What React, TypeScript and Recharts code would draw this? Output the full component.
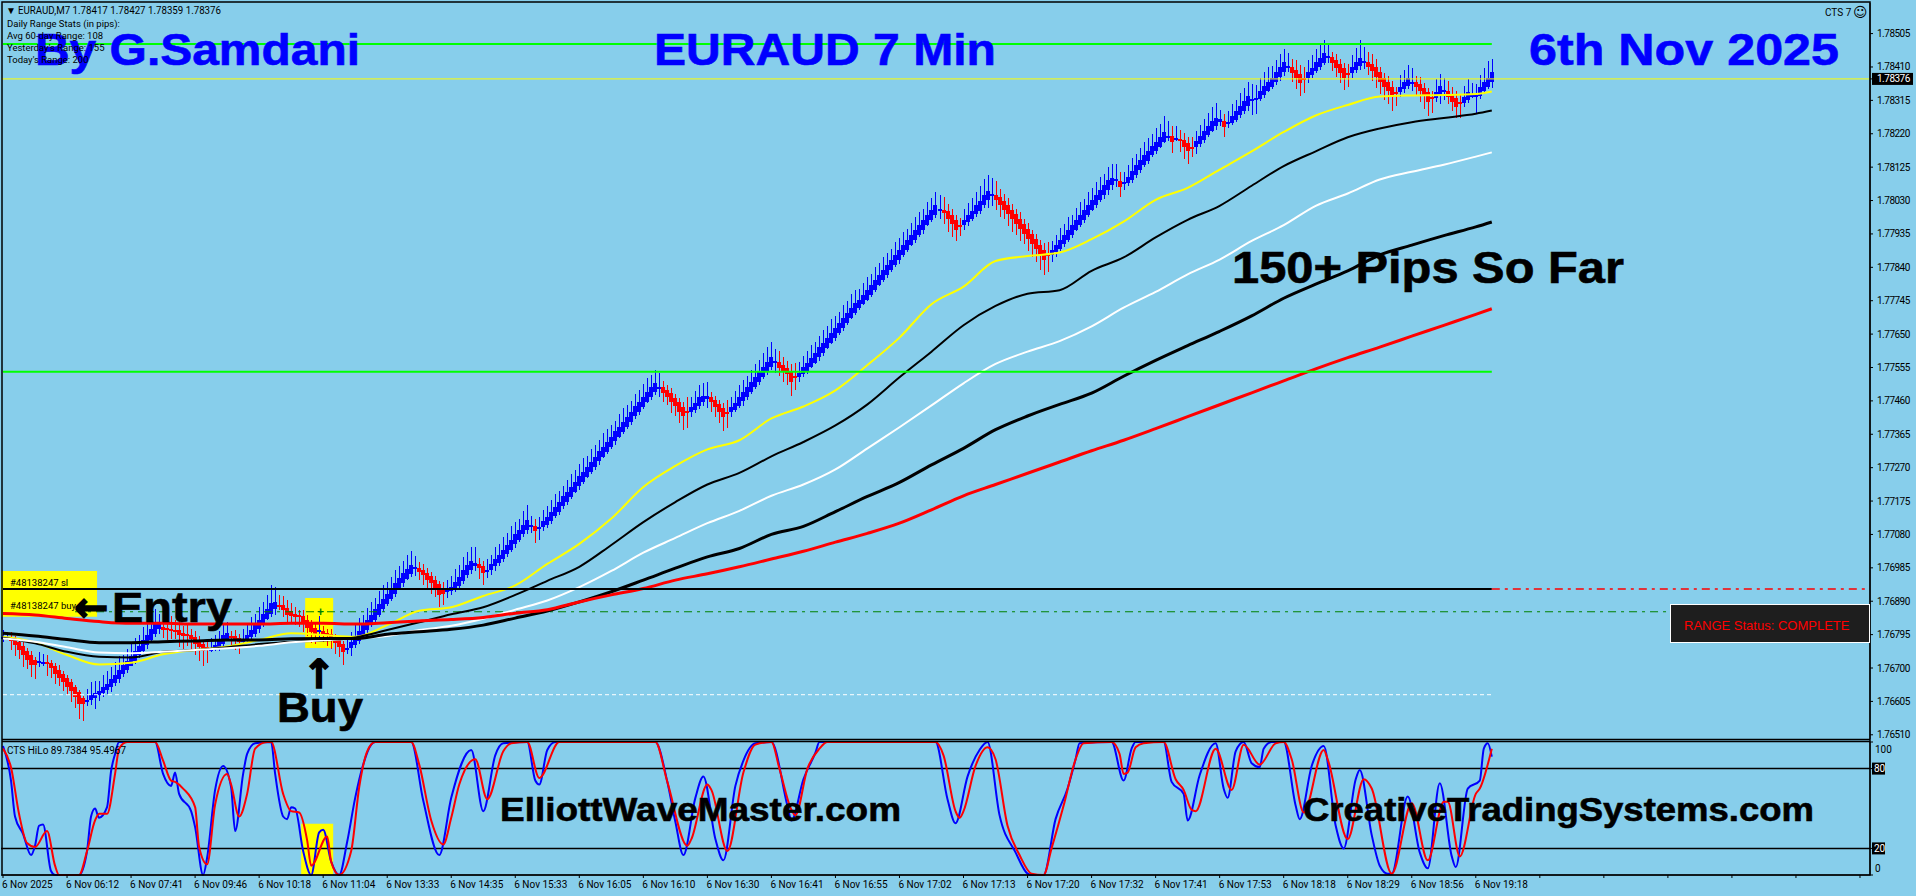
import { Bar, ComposedChart, Line, ReferenceArea, ReferenceLine, XAxis, YAxis } from 'recharts'

// prices are kept as points above 1.76000 (1.78376 -> 2376)
const closes = [
  789,786,775,765,751,737,725,708,708,721,715,711,699,685,673,661,647,633,618,599,
  599,609,623,630,635,647,654,668,680,694,708,721,735,749,762,780,794,810,827,825,
  810,808,808,806,794,793,791,784,770,759,749,751,753,765,780,794,800,789,780,775,
  781,794,808,822,836,854,867,884,887,879,865,851,848,846,844,827,813,803,794,808,
  794,791,780,770,759,746,756,775,789,806,822,836,851,867,882,895,910,924,941,955,
  969,983,993,988,974,964,952,941,927,908,908,922,931,945,960,979,993,1005,1000,985,
  970,979,996,1009,1022,1036,1050,1065,1080,1093,1106,1121,1104,1090,1102,1117,1131,1145,1159,1173,
  1188,1202,1216,1230,1245,1259,1273,1287,1301,1316,1330,1344,1358,1373,1387,1401,1415,1429,1444,1458,
  1472,1486,1499,1512,1500,1483,1472,1456,1446,1429,1417,1427,1442,1455,1470,1474,1474,1455,1442,1429,
  1415,1427,1442,1455,1470,1484,1499,1513,1527,1541,1556,1570,1584,1573,1553,1546,1538,1515,1526,1540,
  1555,1569,1583,1597,1612,1626,1640,1654,1668,1682,1697,1711,1725,1739,1747,1761,1776,1790,1804,1818,
  1833,1847,1861,1875,1890,1904,1918,1932,1946,1961,1975,1989,2003,2016,2006,1996,1977,1962,1948,1961,
  1975,1989,2001,2016,2030,2046,2058,2049,2032,2017,2004,1991,1977,1963,1949,1935,1920,1905,1890,1876,
  1863,1872,1889,1903,1917,1931,1946,1960,1974,1988,2002,2017,2031,2045,2060,2074,2088,2094,2090,2071,
  2082,2097,2115,2131,2145,2159,2172,2185,2197,2212,2226,2214,2197,2207,2200,2183,2169,2183,2199,2214,
  2228,2242,2256,2264,2261,2240,2254,2270,2285,2299,2313,2327,2318,2321,2342,2356,2368,2380,2395,2409,
  2423,2413,2394,2379,2365,2379,2395,2408,2423,2436,2451,2441,2422,2408,2394,2379,2392,2409,2423,2436,
  2427,2411,2399,2380,2365,2354,2340,2325,2338,2354,2366,2379,2368,2354,2340,2327,2311,2321,2340,2356,
  2342,2325,2311,2297,2306,2325,2340,2330,2330,2354,2368,2380,2395,
]

const upperWicks = [
  20,14,14,10,8,12,6,10,8,24,22,20,10,8,12,6,8,10,6,4,
  6,30,36,34,28,32,38,34,36,40,30,34,38,36,32,36,34,38,40,30,
  36,30,36,28,26,20,24,18,16,12,10,14,30,28,26,32,30,14,18,12,
  30,34,36,32,38,34,40,52,44,30,26,22,24,20,16,18,14,12,10,40,
  14,12,16,10,12,8,24,28,32,36,30,34,38,32,36,40,34,36,38,34,
  36,38,40,30,18,16,14,12,10,8,20,28,32,36,34,38,36,40,44,18,
  14,30,26,34,30,36,34,38,36,32,40,44,26,18,28,32,30,34,36,32,
  30,34,36,32,34,38,30,36,34,32,38,36,34,30,36,38,34,32,36,34,
  36,38,34,36,38,18,14,16,12,10,14,40,30,34,36,38,40,14,12,10,
  12,36,30,32,34,36,32,34,38,36,40,42,44,34,30,24,18,20,38,30,
  32,34,36,30,34,36,32,38,34,30,36,34,38,36,32,34,36,30,38,34,
  36,34,32,38,34,36,30,34,38,36,32,36,34,38,40,36,20,16,14,20,
  30,34,36,38,42,44,46,44,38,24,20,22,18,16,20,14,18,12,16,14,
  20,34,26,30,34,32,36,30,34,38,32,36,34,38,36,32,38,40,44,24,
  30,34,36,32,34,38,36,34,40,36,44,42,30,34,26,20,18,28,30,32,
  34,36,40,44,26,18,30,34,32,36,38,40,44,38,36,40,42,34,36,38,
  38,36,22,28,24,30,34,36,38,42,36,34,14,16,12,14,26,34,40,50,
  40,28,30,24,16,14,18,16,14,34,36,38,40,16,20,14,12,18,36,34,
  34,26,18,20,24,30,36,34,32,34,40,46,38,
]

const lowerWicks = [
  14,6,24,30,26,34,28,36,40,14,10,34,26,30,24,28,22,30,32,44,
  48,18,14,32,18,12,10,14,8,10,6,8,4,10,6,8,10,6,8,14,
  24,30,26,22,34,38,30,36,32,40,44,38,8,6,10,8,6,26,30,34,
  10,8,6,8,10,6,4,8,18,12,20,24,18,22,26,24,22,30,28,22,
  20,26,24,30,28,38,18,22,10,8,6,8,4,6,8,10,6,4,8,6,
  8,6,10,20,24,28,22,30,26,34,30,18,10,8,10,6,8,10,16,30,
  34,24,14,12,8,10,6,8,10,6,8,10,20,36,32,12,10,8,6,8,
  6,10,8,6,10,8,4,6,8,10,6,8,6,10,4,8,6,8,6,10,
  8,6,10,8,30,26,24,30,28,34,40,46,14,8,6,10,26,28,26,32,
  42,44,12,8,6,10,8,6,4,8,6,8,6,30,24,30,34,40,34,14,
  8,6,4,6,8,10,6,4,8,6,10,6,4,8,6,4,6,8,6,4,
  6,8,4,6,10,8,6,4,8,6,10,4,6,8,24,32,36,38,34,30,
  16,10,8,6,10,8,20,30,30,34,28,32,36,30,34,28,32,36,34,42,
  44,46,18,10,6,8,6,8,4,6,8,6,4,8,6,10,12,14,16,32,
  18,8,10,6,8,6,10,4,8,6,6,14,32,8,30,34,36,28,18,8,
  8,6,4,10,12,30,14,8,6,10,8,14,40,38,6,8,4,6,8,10,
  10,14,26,30,38,42,14,8,6,10,8,16,24,26,32,34,40,16,8,12,
  20,22,28,30,32,36,34,42,40,14,10,8,24,26,30,36,40,40,12,26,
  28,22,26,30,40,12,10,8,52,10,8,8,16,
]

// first and last bar of each falling (red) run
const redRuns = [
  [2, 8], [11, 20], [40, 51], [57, 59], [69, 78], [80, 85], [104, 110], [119, 120], [133, 133],
  [165, 171], [177, 181], [194, 198], [235, 239], [248, 261], [279, 279], [292, 292], [294, 297],
  [305, 305], [322, 325], [332, 336], [341, 348], [353, 357], [361, 364],
]

const maBars = [
  0, 8, 16, 24, 32, 40, 48, 56, 64, 72, 80, 88, 96, 104, 112, 120, 128, 136, 144, 152, 160, 168, 176, 184,
  192, 200, 208, 216, 224, 232, 240, 248, 256, 264, 272, 280, 288, 296, 304, 312, 320, 328, 336, 344, 352, 360, 368, 372,
]
const maYellow = [
  789, 773, 737, 710, 715, 739, 751, 761, 780, 799, 794, 789, 822, 863, 873, 905, 935, 996, 1053, 1125, 1215, 1275, 1322, 1348,
  1410, 1444, 1490, 1562, 1640, 1735, 1785, 1858, 1872, 1882, 1920, 1970, 2032, 2066, 2118, 2170, 2225, 2272, 2302, 2326, 2329, 2330, 2333, 2340,
]
const maBlackThin = [
  786, 770, 746, 732, 730, 746, 751, 759, 768, 775, 778, 787, 808, 830, 853, 873, 908, 948, 988, 1050, 1115, 1172, 1222, 1255,
  1302, 1343, 1390, 1450, 1527, 1600, 1675, 1730, 1765, 1775, 1830, 1868, 1925, 1975, 2015, 2072, 2128, 2170, 2210, 2235, 2253, 2265, 2277, 2286,
]
const maWhite = [
  784, 775, 759, 744, 742, 746, 751, 756, 763, 773, 779, 784, 791, 808, 820, 840, 866, 892, 930, 976, 1028, 1070, 1112, 1147,
  1190, 1222, 1265, 1325, 1385, 1447, 1510, 1565, 1600, 1630, 1672, 1725, 1770, 1820, 1862, 1915, 1960, 2015, 2050, 2090, 2112, 2132, 2155, 2167,
]
const maBlackThick = [
  799, 791, 781, 772, 772, 775, 777, 780, 780, 783, 784, 784, 796, 803, 810, 822, 842, 862, 888, 917, 950, 984, 1016, 1040,
  1080, 1103, 1145, 1188, 1228, 1278, 1325, 1378, 1417, 1450, 1482, 1530, 1575, 1617, 1658, 1702, 1752, 1792, 1830, 1875, 1903, 1930, 1955, 1969,
]
const maRed = [
  855, 851, 841, 832, 827, 827, 825, 825, 825, 827, 827, 825, 829, 834, 838, 844, 856, 866, 888, 908, 926, 950, 968, 988,
  1010, 1032, 1058, 1083, 1112, 1150, 1190, 1222, 1254, 1286, 1318, 1348, 1381, 1415, 1449, 1483, 1517, 1551, 1583, 1613, 1644, 1675, 1706, 1722,
]

// [bar, value]
const hiloBlue = [
  [0,97],[2,71],[3,44],[5,31],[7,15],[8,22],[9,37],[10,38],[12,3],[13,0],[19,0],[21,18],[22,44],[23,50],[24,43],[26,51],[27,78],[28,91],[29,100],
  [38,100],[40,76],[42,67],[43,77],[44,61],[47,48],[48,36],[50,0],[51,13],[53,64],[55,82],[57,66],[58,33],[60,76],[61,91],[63,99],[67,100],[68,76],
  [70,44],[71,42],[72,51],[73,50],[75,18],[77,0],[79,32],[80,34],[82,10],[84,0],[86,25],[88,58],[90,83],[92,98],[93,100],[102,100],[105,56],[109,15],
  [112,58],[117,94],[120,48],[123,90],[125,99],[131,100],[133,71],[134,68],[136,94],[138,100],[163,100],[166,70],[168,40],[170,15],[173,58],[175,74],
  [178,27],[180,11],[183,67],[185,86],[188,99],[192,100],[196,52],[197,41],[200,72],[203,92],[204,100],[233,100],[236,57],[238,39],[241,74],[244,94],
  [246,100],[249,45],[253,17],[256,1],[257,0],[260,0],[263,42],[266,65],[268,87],[269,99],[277,100],[280,71],[282,95],[283,100],[290,100],[292,70],
  [295,61],[296,41],[299,75],[303,99],[305,65],[306,58],[308,93],[310,100],[312,84],[314,81],[315,95],[317,100],[320,100],[323,52],[324,42],[327,82],
  [330,97],[333,37],[335,20],[338,72],[339,79],[342,30],[344,7],[346,1],[347,1],[351,59],[354,17],[356,5],[359,69],[362,14],[363,6],[366,65],[369,71],
  [370,95],[371,99],[372,89],
]
const hiloRed = [
  [0,95],[2,81],[4,46],[6,24],[8,21],[11,33],[13,7],[14,0],[19,0],[21,18],[23,41],[24,46],[26,46],[28,76],[29,95],[31,100],[38,100],[40,86],[42,71],
  [43,70],[45,65],[48,51],[49,21],[51,8],[53,53],[56,76],[57,68],[59,44],[61,61],[63,95],[66,100],[67,100],[70,61],[72,48],[74,47],[76,26],[77,7],
  [81,29],[82,10],[84,0],[87,18],[89,66],[91,93],[93,100],[102,100],[104,83],[107,41],[110,23],[112,43],[114,68],[118,87],[121,57],[125,93],[127,99],
  [131,100],[134,73],[139,100],[163,100],[166,70],[171,22],[172,27],[176,68],[177,64],[181,18],[185,77],[188,98],[192,100],[194,80],[197,49],[198,45],
  [201,80],[204,95],[206,100],[233,100],[235,90],[238,48],[239,43],[240,48],[243,82],[246,96],[248,87],[251,37],[254,15],[257,1],[260,0],[262,20],
  [265,52],[268,87],[270,99],[277,100],[279,91],[280,76],[281,77],[283,96],[285,99],[290,100],[293,72],[295,64],[297,49],[298,48],[303,95],[307,64],
  [310,98],[314,83],[318,99],[320,100],[322,87],[325,47],[330,94],[331,87],[336,27],[340,72],[342,65],[347,1],[352,54],[356,11],[360,55],[361,55],
  [364,14],[368,61],[369,65],[372,95],
]

const priceTicks = [2505, 2410, 2315, 2220, 2125, 2030, 1935, 1840, 1745, 1650, 1555, 1460, 1365, 1270, 1175, 1080, 985, 890, 795, 700, 605, 510]
const lastPrice = 2376
const hiloTicks = [0, 20, 80, 100]
const timeLabels = [
  '6 Nov 2025', '6 Nov 06:12', '6 Nov 07:41', '6 Nov 09:46', '6 Nov 10:18', '6 Nov 11:04', '6 Nov 13:33', '6 Nov 14:35',
  '6 Nov 15:33', '6 Nov 16:05', '6 Nov 16:10', '6 Nov 16:30', '6 Nov 16:41', '6 Nov 16:55', '6 Nov 17:02', '6 Nov 17:13',
  '6 Nov 17:20', '6 Nov 17:32', '6 Nov 17:41', '6 Nov 17:53', '6 Nov 18:18', '6 Nov 18:29', '6 Nov 18:56', '6 Nov 19:18',
]
const infoLines = ['Daily Range Stats (in pips):', 'Avg 60-day Range: 108', "Yesterday's Range: 155", "Today's Range: 200"]

const SLOTS = 467
const BLUE = '#0000ff'
const RED = '#ff0000'
const SKY = '#87ceeb'
const SMALL = 'Roboto, sans-serif'
const HEAVY = '"Liberation Sans", Arial, sans-serif'

function isRed(i: number) {
  return redRuns.some(([a, b]) => i >= a && i <= b)
}

// Heiken Ashi candles: the open sits halfway up the previous body
let haOpen = closes[0]
const rows = Array.from({ length: SLOTS }, (_, i) => {
  const row: any = { i }
  if (i < closes.length) {
    const close = closes[i]
    if (i > 0) haOpen = (haOpen + closes[i - 1]) / 2
    row.body = [haOpen, close]
    row.wick = [Math.min(haOpen, close) - lowerWicks[i], Math.max(haOpen, close) + upperWicks[i]]
  }
  const k = maBars.indexOf(i)
  if (k >= 0) {
    row.maYellow = maYellow[k]
    row.maBlackThin = maBlackThin[k]
    row.maWhite = maWhite[k]
    row.maBlackThick = maBlackThick[k]
    row.maRed = maRed[k]
  }
  return row
})

const hiloRows = Array.from({ length: SLOTS }, (_, i) => {
  const row: any = { i }
  const b = hiloBlue.find((p) => p[0] === i)
  const r = hiloRed.find((p) => p[0] === i)
  if (b) row.blue = b[1]
  if (r) row.red = r[1]
  return row
})

// pixel-snapped so the 4px candle grid stays crisp, thin bodies stay 2px tall
function CandlePart({ x, y, width, height, payload, minHeight = 1 }: any) {
  if (payload?.body == null || height == null) return null
  const top = Math.round(Math.min(y, y + height))
  const h = Math.max(Math.round(Math.abs(height)), minHeight)
  return <rect x={Math.round(x)} y={top} width={Math.round(width)} height={h} fill={isRed(payload.i) ? RED : BLUE} />
}

function PriceTick({ x, y, payload }: any) {
  const v = payload.value
  const label = (1.76 + v / 100000).toFixed(5)
  if (v === lastPrice) {
    return (
      <g>
        <rect x={x - 3} y={y - 6} width={41} height={12} fill="#000" />
        <text x={x + 2} y={y + 3.5} fontFamily={SMALL} fontSize={10} letterSpacing={-0.5} fill="#fff">{label}</text>
      </g>
    )
  }
  return <text x={x + 2} y={y + 3.5} fontFamily={SMALL} fontSize={10} letterSpacing={-0.5} fill="#000">{label}</text>
}

function HiloTick({ x, y, payload }: any) {
  const v = payload.value
  if (v === 20 || v === 80) {
    return (
      <g>
        <rect x={x - 3} y={y - 6} width={13} height={12} fill="#000" />
        <text x={x - 1} y={y + 3.5} fontFamily={SMALL} fontSize={10} fill="#fff">{v}</text>
      </g>
    )
  }
  return <text x={x} y={y + (v === 100 ? 10.5 : -3)} fontFamily={SMALL} fontSize={10} fill="#000">{v}</text>
}

function TimeTick({ x, y, payload }: any) {
  return <text x={x - 1} y={y + 8} fontFamily={SMALL} fontSize={10} fill="#000">{timeLabels[payload.value / 16]}</text>
}

function Big({ x, y, w, size, fill = '#000', children }: any) {
  return (
    <text
      x={x}
      y={y}
      textLength={w}
      lengthAdjust="spacingAndGlyphs"
      fontFamily={HEAVY}
      fontWeight={700}
      fontSize={size}
      fill={fill}
      stroke={fill}
      strokeWidth={0.6}
    >
      {children}
    </text>
  )
}

export default function App() {
  return (
    <div style={{ position: 'absolute', left: 0, top: 0, width: 1916, height: 896, background: SKY, overflow: 'hidden' }}>
      <div style={{ position: 'absolute', left: 0, top: 0 }}>
        <ComposedChart width={1916} height={741} data={rows} margin={{ top: 3, right: 0, bottom: 2, left: 1 }}>
          <XAxis xAxisId="wick" dataKey="i" hide />
          <XAxis xAxisId="body" dataKey="i" hide />
          <YAxis
            orientation="right"
            type="number"
            domain={[498, 2592]}
            allowDataOverflow
            ticks={[...priceTicks, lastPrice]}
            interval={0}
            width={46}
            tickSize={3}
            tickMargin={2}
            stroke="#000"
            tick={<PriceTick />}
          />
          <ReferenceArea xAxisId="body" x1={0} x2={23} y1={846} y2={976} fill="#ffff00" fillOpacity={1} stroke="none" />
          <ReferenceArea xAxisId="body" x1={76} x2={82} y1={757} y2={899} fill="#ffff00" fillOpacity={1} stroke="none" />
          <ReferenceLine xAxisId="body" segment={[{ x: 18, y: 860 }, { x: 416, y: 860 }]} stroke="#008000" strokeWidth={1} strokeDasharray="8 5 3 5" />
          <ReferenceLine xAxisId="body" segment={[{ x: 0, y: 624 }, { x: 372, y: 624 }]} stroke="#ffffff" strokeWidth={1} strokeDasharray="4 3" />
          <Line xAxisId="body" type="monotone" dataKey="maYellow" stroke="#ffff00" strokeWidth={2} dot={false} activeDot={false} connectNulls isAnimationActive={false} />
          <Bar xAxisId="wick" dataKey="wick" barSize={1} isAnimationActive={false} shape={<CandlePart />} />
          <Bar xAxisId="body" dataKey="body" barSize={4} isAnimationActive={false} shape={<CandlePart minHeight={2} />} />
          <Line xAxisId="body" type="monotone" dataKey="maBlackThin" stroke="#000" strokeWidth={2} dot={false} activeDot={false} connectNulls isAnimationActive={false} />
          <Line xAxisId="body" type="monotone" dataKey="maWhite" stroke="#fff" strokeWidth={2} dot={false} activeDot={false} connectNulls isAnimationActive={false} />
          <Line xAxisId="body" type="monotone" dataKey="maBlackThick" stroke="#000" strokeWidth={3} dot={false} activeDot={false} connectNulls isAnimationActive={false} />
          <Line xAxisId="body" type="monotone" dataKey="maRed" stroke={RED} strokeWidth={3} dot={false} activeDot={false} connectNulls isAnimationActive={false} />
          <ReferenceLine xAxisId="body" segment={[{ x: 0, y: 2475 }, { x: 372, y: 2475 }]} stroke="#00ff00" strokeWidth={2} />
          <ReferenceLine xAxisId="body" segment={[{ x: 0, y: 1543 }, { x: 372, y: 1543 }]} stroke="#00ff00" strokeWidth={2} />
          <ReferenceLine xAxisId="body" y={lastPrice} stroke="#ffff00" strokeWidth={1} />
          <ReferenceLine xAxisId="body" segment={[{ x: 0, y: 925 }, { x: 372, y: 925 }]} stroke="#000" strokeWidth={2} />
          <ReferenceLine xAxisId="body" segment={[{ x: 372, y: 925 }, { x: 466, y: 925 }]} stroke={RED} strokeWidth={1.5} strokeDasharray="8 5 3 5" />
        </ComposedChart>
      </div>

      <div style={{ position: 'absolute', left: 0, top: 0 }}>
        <ComposedChart width={1916} height={896} data={hiloRows} margin={{ top: 742, right: 0, bottom: 0, left: 1 }}>
          <XAxis
            dataKey="i"
            scale="band"
            interval={15}
            height={21}
            tickSize={3}
            tickMargin={2}
            stroke="#000"
            tick={<TimeTick />}
          />
          <YAxis
            orientation="right"
            type="number"
            domain={[0, 100]}
            ticks={hiloTicks}
            interval={0}
            width={46}
            tickSize={3}
            tickMargin={2}
            stroke="#000"
            tick={<HiloTick />}
          />
          <ReferenceArea x1={75} x2={82} y1={0} y2={38.5} fill="#ffff00" fillOpacity={1} stroke="none" />
          <ReferenceLine y={80} stroke="#000" strokeWidth={1.5} />
          <ReferenceLine y={20} stroke="#000" strokeWidth={1.5} />
          <Line type="monotone" dataKey="blue" stroke={BLUE} strokeWidth={2} dot={false} activeDot={false} connectNulls isAnimationActive={false} />
          <Line type="monotone" dataKey="red" stroke={RED} strokeWidth={2} dot={false} activeDot={false} connectNulls isAnimationActive={false} />
        </ComposedChart>
      </div>

      <svg width={1916} height={896} style={{ position: 'absolute', left: 0, top: 0, pointerEvents: 'none' }}>
        <g stroke="#000" strokeWidth={1.5} fill="none">
          <rect x={2} y={2} width={1868} height={873} />
          <line x1={2} x2={1870} y1={739.5} y2={739.5} />
          <line x1={2} x2={1870} y1={741.5} y2={741.5} />
        </g>

        <Big x={35} y={65} w={325} size={45} fill={BLUE}>By G.Samdani</Big>
        <Big x={654} y={65} w={342} size={45} fill={BLUE}>EURAUD 7 Min</Big>
        <Big x={1529} y={65} w={310} size={45} fill={BLUE}>6th Nov 2025</Big>
        <Big x={1232} y={283} w={392} size={44}>150+ Pips So Far</Big>
        <Big x={112} y={622} w={120} size={42}>Entry</Big>
        <Big x={277} y={722} w={86} size={42}>Buy</Big>
        <Big x={500} y={821} w={401} size={32.5}>ElliottWaveMaster.com</Big>
        <Big x={1303} y={821} w={511} size={32.5}>CreativeTradingSystems.com</Big>
        <text x={74} y={621} fontFamily="DejaVu Sans" fontWeight={700} fontSize={41} fill="#000" stroke="#000" strokeWidth={1.5}>←</text>
        <text x={319} y={688} textAnchor="middle" fontFamily="DejaVu Sans" fontWeight={700} fontSize={40} fill="#000" stroke="#000" strokeWidth={1.5}>↑</text>

        <text x={6} y={14} fontFamily={SMALL} fontSize={10} fill="#000">▼</text>
        <text x={18} y={14} textLength={203} lengthAdjust="spacingAndGlyphs" fontFamily={SMALL} fontSize={10} fill="#000">EURAUD,M7  1.78417 1.78427 1.78359 1.78376</text>
        {infoLines.map((t, k) => (
          <text key={t} x={7} y={27 + k * 12} fontFamily={SMALL} fontSize={9.5} fill="#000">{t}</text>
        ))}
        <text x={1825} y={16} fontFamily={SMALL} fontSize={10} fill="#000">CTS 7</text>
        <text x={1853} y={17} fontFamily="DejaVu Sans" fontSize={14} fill="#000">☺</text>
        <text x={7} y={754} fontFamily={SMALL} fontSize={10} fill="#000">CTS HiLo 89.7384 95.4967</text>
        <text x={10} y={586} fontFamily={SMALL} fontSize={9.5} fill="#000">#48138247 sl</text>
        <text x={10} y={609} fontFamily={SMALL} fontSize={9.5} fill="#000">#48138247 buy</text>
        <text x={317} y={616} fontFamily={HEAVY} fontWeight={700} fontSize={12} fill="#008000">+</text>

        <rect x={1670.5} y={604.5} width={199} height={38} fill="#1e1e1e" stroke="#fff" strokeWidth={1} />
        <text x={1684} y={630} fontFamily={HEAVY} fontSize={13} fill={RED}>RANGE Status: COMPLETE</text>
      </svg>
    </div>
  )
}
